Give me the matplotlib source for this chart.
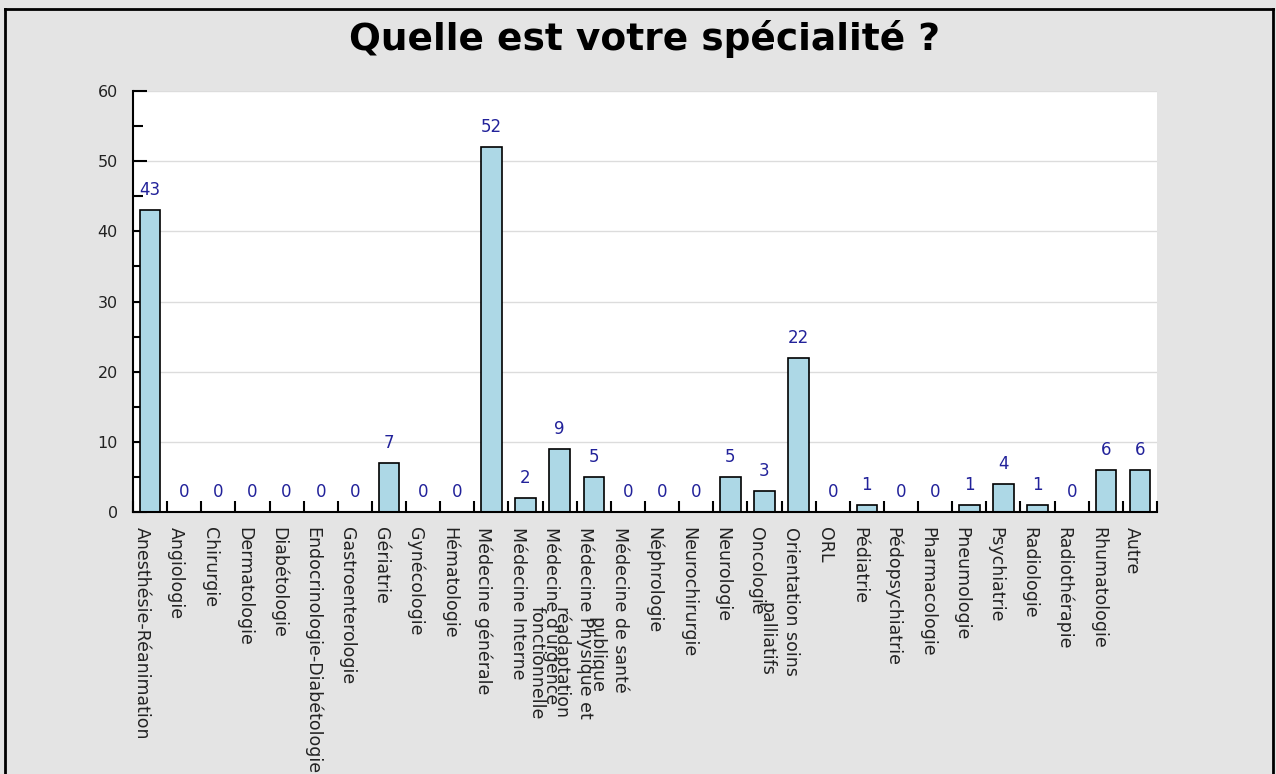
import matplotlib
matplotlib.use("Agg")
import matplotlib.pyplot as plt
import matplotlib.transforms as mtransforms
from matplotlib.lines import Line2D
from matplotlib.ticker import MultipleLocator
import numpy as np

# data
specialites = [
    "Anesthésie-Réanimation", "Angiologie", "Chirurgie", "Dermatologie",
    "Diabétologie", "Endocrinologie-Diabétologie", "Gastroenterologie",
    "Gériatrie", "Gynécologie", "Hématologie", "Médecine générale",
    "Médecine Interne", "Médecine d'urgence",
    "Médecine Physique et\nréadaptation\nfonctionnelle",
    "Médecine de santé\npublique", "Néphrologie", "Neurochirurgie",
    "Neurologie", "Oncologie", "Orientation soins\npalliatifs", "ORL",
    "Pédiatrie", "Pédopsychiatrie", "Pharmacologie", "Pneumologie",
    "Psychiatrie", "Radiologie", "Radiothérapie", "Rhumatologie", "Autre",
]
effectifs = [43, 0, 0, 0, 0, 0, 0, 7, 0, 0, 52, 2, 9, 5, 0, 0, 0, 5, 3, 22,
             0, 1, 0, 0, 1, 4, 1, 0, 6, 6]
titre = "Quelle est votre spécialité ?"

bg = "#e4e4e4"
fig = plt.figure(figsize=(12.76, 7.74), dpi=100, facecolor=bg)
ax = fig.add_axes([133/1276, 1 - 512/774, (1157-133)/1276, (512-91)/774])
ax.set_facecolor("white")

x = np.arange(len(specialites))
bars = ax.bar(x, effectifs, width=0.6, color="#add8e6", edgecolor="black",
              linewidth=1.2, zorder=2)

# value labels above bars
for xi, v in zip(x, effectifs):
    ax.annotate(str(v), (xi, v), xytext=(0, 8), textcoords="offset points",
                ha="center", va="bottom", fontsize=12, color="#22229a")

ax.set_xlim(-0.5, len(specialites) - 0.5)
ax.set_ylim(0, 60)
ax.yaxis.set_major_locator(MultipleLocator(10))
ax.yaxis.set_minor_locator(MultipleLocator(5))
ax.grid(axis="y", which="major", color="#dcdcdc", linewidth=1, zorder=0)
ax.set_axisbelow(True)

for s in ["top", "right"]:
    ax.spines[s].set_visible(False)
for s in ["left", "bottom"]:
    ax.spines[s].set_linewidth(1.5)
    ax.spines[s].set_color("black")

ax.tick_params(axis="y", which="major", direction="in", length=10, width=1.5,
               labelsize=11.5, pad=11, labelcolor="#222222")
ax.tick_params(axis="y", which="minor", direction="in", length=7, width=1.5)

# x: labels at centres, tick marks at category boundaries
ax.set_xticks(x)
ax.set_xticks(np.arange(len(specialites) + 1) - 0.5, minor=True)
ax.tick_params(axis="x", which="major", length=0, pad=11, labelsize=12.5,
               labelcolor="#222222")
ax.tick_params(axis="x", which="minor", direction="in", length=8, width=1.5)
ax.set_xticklabels(specialites, rotation=270, ha="right", va="top")
offset = mtransforms.ScaledTranslation(0.01, 0, fig.dpi_scale_trans)
for lab in ax.get_xticklabels():
    lab.set_linespacing(1.42)
    lab.set_transform(lab.get_transform() + offset)

fig.text((133 + 1157) / 2 / 1276, 1 - 39 / 774, titre, ha="center",
         va="center", fontsize=27, fontweight="bold", color="black")

# frame around the picture
fig.add_artist(Line2D([5/1276, 5/1276], [0, 1 - 9/774], transform=fig.transFigure,
                      color="black", linewidth=2))
fig.add_artist(Line2D([1273/1276, 1273/1276], [0, 1 - 9/774],
                      transform=fig.transFigure, color="black", linewidth=2))
fig.add_artist(Line2D([5/1276, 1273/1276], [1 - 9/774, 1 - 9/774],
                      transform=fig.transFigure, color="black", linewidth=2))

fig.savefig("out.png", dpi=100, facecolor=bg)
